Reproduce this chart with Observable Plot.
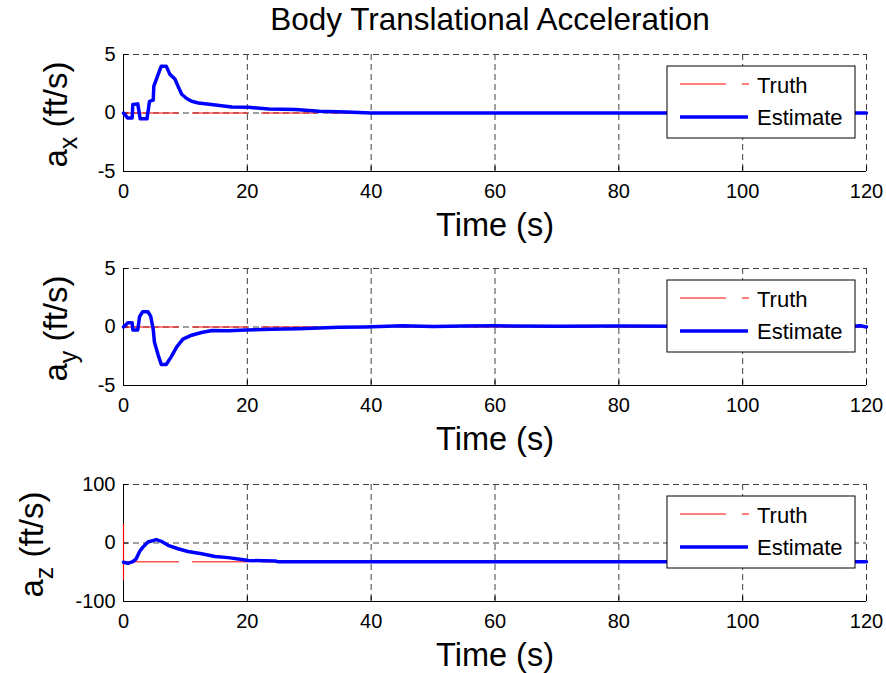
<!DOCTYPE html>
<html><head><meta charset="utf-8">
<script src="https://cdn.jsdelivr.net/npm/d3@7"></script>
<script src="https://cdn.jsdelivr.net/npm/@observablehq/plot@0.6"></script>
<style>
body{margin:0;background:#fff;}
#wrap{position:relative;width:886px;height:673px;overflow:hidden;font-family:"Liberation Sans",Arial,Helvetica,sans-serif;}
#title{position:absolute;left:90px;width:800px;top:4px;text-align:center;font-size:31.5px;line-height:31.5px;color:#000;white-space:nowrap;}
.pl{position:absolute;left:0;}
</style></head><body>
<div id="wrap"><div id="title">Body Translational Acceleration</div></div>
<script>
const xTicks = [0, 20, 40, 60, 80, 100, 120];
const titleText = "Body Translational Acceleration";
const xLabel = "Time (s)";
const legendLabels = ["Truth", "Estimate"];

// a_x estimate
const axT = [0,0.7,1.4,1.5,2.3,2.7,3.8,4.2,4.8,4.9,5.6,6.1,6.9,7.5,8.3,8.8,9.4,10.2,11,12.1,14.2,17.5,20.2,23.5,27.8,31.6,36,39,40,60,80,100,120];
const axV = [0,-0.43,-0.43,0.72,0.78,-0.5,-0.5,1.0,1.1,2.3,3.3,4.0,4.0,3.3,2.9,2.3,1.6,1.24,1.0,0.86,0.72,0.52,0.49,0.34,0.29,0.14,0.09,0.02,0,0,0,0,0];
// a_y estimate
const ayT = [0,0.7,1.4,1.5,2.3,2.6,3.1,3.96,4.4,4.8,5.0,5.6,6.1,6.9,7.7,8.6,9.6,11,12.6,14.3,17,19.7,24,28.3,34.8,39,45,50,55,60,70,80,90,100,110,117,119,120];
const ayV = [0,0.36,0.36,-0.25,-0.25,0.9,1.3,1.3,0.9,-0.2,-1.3,-2.4,-3.2,-3.2,-2.55,-1.7,-1.03,-0.7,-0.47,-0.3,-0.33,-0.25,-0.2,-0.14,-0.03,0,0.1,0.05,0.08,0.1,0.06,0.08,0.06,0.05,0.06,0.05,0.1,0];
// a_z estimate
const azT = [0,0.7,1.5,2.05,2.6,3.1,3.95,5.3,6.1,7.2,8.8,10.4,12.6,14.8,16.9,19.1,20.2,24.5,25,40,60,80,100,120];
const azV = [-33,-34.7,-31.8,-27,-14.5,-7.5,1.7,5.8,2.9,-4,-9.8,-14.5,-18.5,-23,-25,-28.3,-30,-30.6,-32.2,-32.2,-32.2,-32.2,-32.2,-32.2];

// truth
const truthXYT = [0, 120];
const truthXYV = [0, 0];
const truthZT = [0, 120];
const truthZV = [-32.2, -32.2];
const truthZSpikeT = [0, 0];
const truthZSpikeV = [32, -62];

const FONT = '"Liberation Sans", Arial, Helvetica, sans-serif';

function zip(t, v) { return t.map((d, i) => ({t: d, v: v[i]})); }

function makePlot(cfg) {
  const W = 886, H = 217, mt = 20, mb = 80, ml = 123, mr = 20;
  const pw = W - ml - mr, ph = H - mt - mb;
  const yMin = cfg.yDomain[0];
  const marks = [
    Plot.ruleX(xTicks.filter(d => d > 0), {x: d => d, stroke: "#404040", strokeWidth: 1, strokeDasharray: "6,4"}),
    Plot.ruleY(cfg.yTicks.filter(d => d > yMin), {y: d => d, stroke: "#404040", strokeWidth: 1, strokeDasharray: "6,4"}),
    Plot.ruleX([0], {x: d => d, stroke: "#000", strokeWidth: 1}),
    Plot.ruleY([yMin], {y: d => d, stroke: "#000", strokeWidth: 1}),
    Plot.tickX(xTicks, {x: d => d, insetTop: ph - 5, stroke: "#000"}),
    Plot.tickY(cfg.yTicks, {y: d => d, insetRight: pw - 5, stroke: "#000"}),
    Plot.line(zip(cfg.tt, cfg.tv), {x: "t", y: "v", stroke: "#ff0000", strokeWidth: 1, strokeDasharray: "55,14"})
  ];
  if (cfg.st) marks.push(Plot.line(zip(cfg.st, cfg.sv), {x: "t", y: "v", stroke: "#ff0000", strokeWidth: 1.2}));
  marks.push(
    Plot.line(zip(cfg.t, cfg.v), {x: "t", y: "v", stroke: "#0000ff", strokeWidth: 3.5, strokeLinejoin: "round", strokeLinecap: "round"}),
    Plot.axisX(xTicks, {tickSize: 0, tickPadding: 12, fontSize: 20, label: null, tickFormat: d => String(d)}),
    Plot.axisY(cfg.yTicks, {tickSize: 0, tickPadding: 8, fontSize: 20, label: null, tickFormat: d => String(d)}),
    Plot.text([xLabel], {frameAnchor: "bottom", lineAnchor: "middle", dy: 54, fontSize: 32.5, fill: "#000"})
  );
  const svg = Plot.plot({
    width: W, height: H, marginTop: mt, marginBottom: mb, marginLeft: ml, marginRight: mr,
    style: {fontFamily: FONT, background: "transparent", color: "#000", overflow: "visible"},
    x: {domain: [0, 120], axis: null},
    y: {domain: cfg.yDomain, axis: null},
    marks
  });
  const s = d3.select(svg);
  // y label with subscript
  const lab = s.append("text")
    .attr("transform", `translate(${cfg.labelX},${mt + ph / 2 + 2}) rotate(-90)`)
    .attr("text-anchor", "middle")
    .style("font-size", "33px").style("font-family", FONT).attr("fill", "#000");
  lab.append("tspan").text("a");
  lab.append("tspan").attr("dy", 10).style("font-size", "25px").text(cfg.sub);
  lab.append("tspan").attr("dy", -10).text(" (ft/s)");
  // legend
  const lx = 667, ly = mt + 12;
  const lg = s.append("g").attr("text-anchor", "start");
  lg.append("rect").attr("x", lx).attr("y", ly).attr("width", 188).attr("height", 72)
    .attr("fill", "#fff").attr("stroke", "#000").attr("stroke-width", 1);
  lg.append("line").attr("x1", 680).attr("x2", 749).attr("y1", ly + 18).attr("y2", ly + 18)
    .attr("stroke", "#ff0000").attr("stroke-width", 1).attr("stroke-dasharray", "46,16");
  lg.append("line").attr("x1", 680).attr("x2", 748).attr("y1", ly + 51).attr("y2", ly + 51)
    .attr("stroke", "#0000ff").attr("stroke-width", 3.5);
  lg.append("text").attr("x", 757).attr("y", ly + 27).attr("text-anchor", "start").style("font-size", "22px").style("font-family", FONT).attr("fill", "#000").text(legendLabels[0]);
  lg.append("text").attr("x", 757).attr("y", ly + 59).attr("text-anchor", "start").style("font-size", "22px").style("font-family", FONT).attr("fill", "#000").text(legendLabels[1]);
  svg.classList.add("pl");
  svg.style.top = cfg.top + "px";
  document.getElementById("wrap").appendChild(svg);
}

makePlot({t: axT, v: axV, tt: truthXYT, tv: truthXYV, yDomain: [-5, 5], yTicks: [-5, 0, 5], sub: "x", labelX: 67, top: 34});
makePlot({t: ayT, v: ayV, tt: truthXYT, tv: truthXYV, yDomain: [-5, 5], yTicks: [-5, 0, 5], sub: "y", labelX: 67, top: 248});
makePlot({t: azT, v: azV, tt: truthZT, tv: truthZV, st: truthZSpikeT, sv: truthZSpikeV, yDomain: [-100, 100], yTicks: [-100, 0, 100], sub: "z", labelX: 43, top: 464});
</script></body></html>
